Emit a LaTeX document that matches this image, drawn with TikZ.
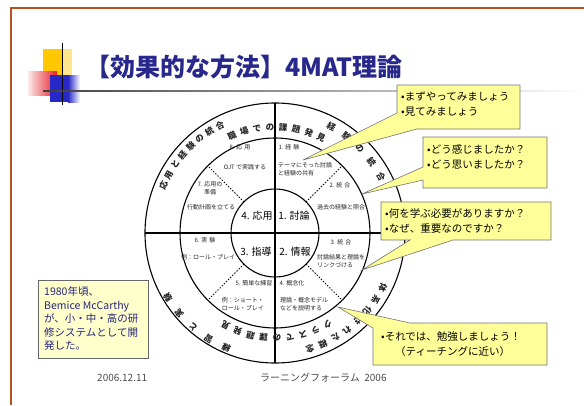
\documentclass[tikz,border=0pt]{standalone}
\usepackage{fontspec}
\setmainfont{Noto Sans CJK JP}
\definecolor{frame}{RGB}{178,82,30}
\definecolor{titleblue}{RGB}{40,40,140}
\definecolor{callyellow}{RGB}{255,255,153}
\definecolor{paleyellow}{RGB}{255,255,204}
\definecolor{gold}{RGB}{255,200,0}
\definecolor{sqred}{RGB}{230,30,40}
\definecolor{sqblue}{RGB}{40,40,200}
\tikzset{
 lbl/.style={font=\fontsize{6}{7.8}\selectfont, inner sep=0pt, text=black!85},
 quad/.style={font=\fontsize{10}{12}\selectfont, inner sep=0pt},
 ring/.style={font=\fontsize{8.5}{9}\selectfont\bfseries, inner sep=0pt, text=black!85},
 call/.style={draw=black!55, fill=callyellow, line width=0.6pt, line join=miter},
 calltext/.style={font=\fontsize{10.5}{15}\selectfont, inner sep=0pt, align=left, anchor=west},
 foot/.style={font=\fontsize{10}{12}\selectfont, text=black!70, inner sep=0pt},
 ringline/.style={line width=1.1pt, black},
 divider/.style={line width=1pt, dash pattern=on 1.3pt off 1.7pt},
}
\begin{document}
\begin{tikzpicture}[x=1pt,y=-1pt]
\useasboundingbox (0,0) rectangle (584,405);
\fill[white] (0,0) rectangle (584,405);
% slide frame
\draw[line width=2.5pt, frame] (11,405) -- (11,8) -- (584,8);
% title decoration
\fill[gold] (43,49) rectangle (62,75);
\fill[gold!45] (62,49) rectangle (72,75);
\shade[left color=sqred!10, right color=sqred] (28,71) rectangle (57,95);
\fill[sqblue] (50,75) rectangle (68,102);
\shade[left color=sqblue, right color=white] (68,75) rectangle (80,102);
\draw[line width=1pt] (62,43) -- (62,105);
\shade[left color=black!75, right color=white] (43,90.4) rectangle (584,91.6);
% title
\node[anchor=west, inner sep=0pt, text=titleblue, font=\fontsize{25}{28}\selectfont\bfseries] (title) at (85,67) {【効果的な方法】4MAT理論};

% ===== circle diagram =====
\begin{scope}[shift={(275,233)},yscale=-1]
 \coordinate (c) at (0,0);
 \draw[ringline] (c) circle[radius=130pt];
 \draw[ringline] (c) circle[radius=95pt];
 \draw[ringline] (c) circle[radius=44pt];
 \draw[ringline] (0,130) -- (0,-130);
 \draw[ringline] (-130,0) -- (130,0);
 \foreach \a in {45,135,225,315} \draw[divider] (\a:44) -- (\a:95);
 % ring texts
 \foreach \ch [count=\i from 0] in {応,用,と,経,験,の,統,合}
   {\pgfmathsetmacro\ang{157-\i*5.7}\node[ring,rotate=\ang-90] at (\ang:121) {\ch};}
 \foreach \ch [count=\i from 0] in {職,場,で,の,課,題,発,見}
   {\pgfmathsetmacro\ang{114-\i*7.1}\node[ring,rotate=\ang-90] at (\ang:106) {\ch};}
 \foreach \ch [count=\i from 0] in {経,験,の,統,合}
   {\pgfmathsetmacro\ang{62-\i*8.5}\node[ring,rotate=\ang-90] at (\ang:120) {\ch};}
 \foreach \ch [count=\i from 0] in {体,系,化,さ,れ,た,概,念}
   {\pgfmathsetmacro\ang{-27-\i*6.6}\node[ring,rotate=\ang-90] at (\ang:121) {\ch};}
 \foreach \ch [count=\i from 0] in {ク,ラ,ス,で,の,課,題,発,見}
   {\pgfmathsetmacro\ang{-60-\i*7.25}\node[ring,rotate=\ang-90] at (\ang:105) {\ch};}
 \foreach \ch [count=\i from 0] in {練,習,と,実,験}
   {\pgfmathsetmacro\ang{-113-\i*9}\node[ring,rotate=\ang-90] at (\ang:125) {\ch};}
\end{scope}

% quadrant labels
\node[quad] (q4) at (257,216) {4. 応用};
\node[quad] (q1) at (294,216) {1. 討論};
\node[quad] (q3) at (256,252) {3. 指導};
\node[quad] (q2) at (295,252) {2. 情報};

% sector labels
\node[lbl] (s8) at (240,147) {8. 応\,\,用};
\node[lbl] (s8t) at (245,167) {OJT で実践する};
\node[lbl, align=center] (s7) at (210,188) {7. 応用の\\準備};
\node[lbl] (s7t) at (211,207) {行動計画を立てる};
\node[lbl] (s1) at (289,147) {1. 経\,\,験};
\node[lbl, align=left, anchor=west] (s1t) at (278,169.5) {テーマにそった討論\\と経験の共有};
\node[lbl] (s2) at (340,185) {2. 統\,\,合};
\node[lbl] (s2t) at (341,207) {過去の経験と照合};
\node[lbl] (s3) at (341,242) {3. 統\,\,合};
\node[lbl, align=left, anchor=west] (s3t) at (317,261) {討論結果と理論を\\リンクづける};
\node[lbl] (s4) at (292,283) {4. 概念化};
\node[lbl, align=left, anchor=west] (s4t) at (280,304) {理論・概念モデル\\などを説明する};
\node[lbl] (s5) at (254,283) {5. 簡単な練習};
\node[lbl, align=right, anchor=east] (s5t) at (264,304) {例：ショート・\\ロール・プレイ};
\node[lbl] (s6) at (205,240) {6. 実\,\,験};
\node[lbl] (s6t) at (208,257) {例：ロール・プレイ};

% ===== callouts =====
\coordinate (tip1) at (303,160);
\coordinate (tip2) at (362,194);
\coordinate (tip3) at (362,270);
\coordinate (tip4) at (338,307);
\draw[call] (397,85) -- (520,85) -- (520,129) -- (417,129) -- (tip1) -- (397,113) -- cycle;
\node[calltext] (t1) at (401,104.5) {•まずやってみましょう\\•見てみましょう};
\draw[call] (423,137) -- (547,137) -- (547,188) -- (423,188) -- (423,180) -- (tip2) -- (423,167) -- cycle;
\node[calltext] (t2) at (427,156.5) {•どう感じましたか？\\•どう思いましたか？};
\draw[call] (381,202) -- (551,202) -- (551,240) -- (453,240) -- (tip3) -- (410,240) -- (381,240) -- cycle;
\node[calltext] (t3) at (385,220.5) {•何を学ぶ必要がありますか？\\•なぜ、重要なのですか？};
\draw[call] (410,323) -- (547,323) -- (547,365) -- (373,365) -- (373,328) -- (tip4) -- cycle;
\node[calltext] (t4) at (381,344.5) {•それでは、勉強しましょう！\\\hspace{14pt}（ティーチングに近い）};

% left note
\node[draw=black!60, fill=paleyellow, line width=0.6pt, minimum width=110pt, minimum height=78pt, inner sep=0pt] (note) at (93,319) {};
\node[inner sep=0pt, anchor=west, align=left, text=titleblue!90!black, font=\fontsize{10.5}{13.5}\selectfont] (notetext) at (44,319) {1980年頃、\\Bemice McCarthy\\が、小・中・高の研\\修システムとして開\\発した。};

% footer
\node[foot, anchor=west] (date) at (97,378) {2006.12.11};
\node[foot, anchor=west] (forum) at (260,378) {ラーニングフォーラム\ \ 2006};
\end{tikzpicture}
\end{document}
